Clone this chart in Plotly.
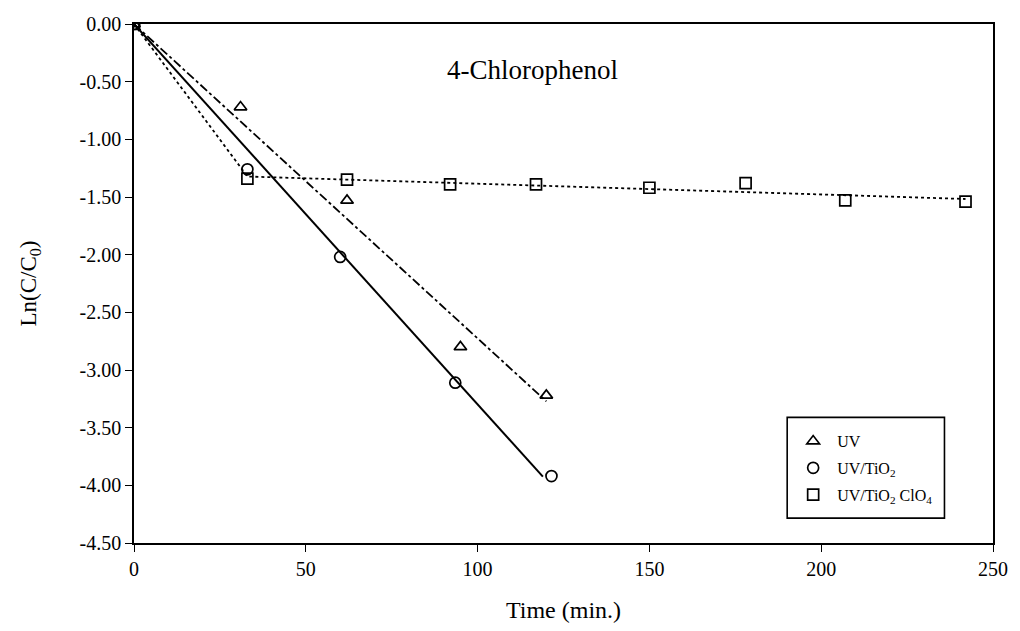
import numpy as np
import plotly.graph_objects as go

# Data
uv_t = [0, 31, 62, 95, 120]
uv_y = [0.00, -0.72, -1.53, -2.80, -3.22]

tio2_t = [0, 33, 60, 93.5, 121.5]
tio2_y = [0.00, -1.26, -2.02, -3.11, -3.92]

clo4_t = [0, 33, 62, 92, 117, 150, 178, 207, 242]
clo4_y = [0.00, -1.34, -1.35, -1.39, -1.39, -1.42, -1.38, -1.53, -1.54]

# extent of the drawn trend lines (minutes)
uv_fit_end = 120
tio2_fit_end = 119

series_names = ["UV", "UV/TiO<sub>2</sub>", "UV/TiO<sub>2</sub> ClO<sub>4</sub>"]

x_ticks = [0, 50, 100, 150, 200, 250]
y_ticks = [0, -0.5, -1, -1.5, -2, -2.5, -3, -3.5, -4, -4.5]
y_ticktext = ["0.00", "-0.50", "-1.00", "-1.50", "-2.00", "-2.50", "-3.00", "-3.50", "-4.00", "-4.50"]

FONT = "Liberation Serif"

def fit_origin(t, y):
    t = np.array(t, float); y = np.array(y, float)
    return float((t * y).sum() / (t * t).sum())

fig = go.Figure()

# UV: dash-dot fit through origin
k_uv = fit_origin(uv_t, uv_y)
fig.add_trace(go.Scatter(x=[0, uv_fit_end], y=[0, k_uv * uv_fit_end], mode="lines",
                         line=dict(color="black", width=1.8, dash="dashdot"),
                         showlegend=False, hoverinfo="skip"))
# UV/TiO2: solid fit through origin
k_ti = fit_origin(tio2_t, tio2_y)
fig.add_trace(go.Scatter(x=[0, tio2_fit_end], y=[0, k_ti * tio2_fit_end], mode="lines",
                         line=dict(color="black", width=2.0),
                         showlegend=False, hoverinfo="skip"))
# ClO4: dotted — initial drop then plateau fit
pt = np.array(clo4_t[1:], float); py = np.array(clo4_y[1:], float)
a, b = np.polyfit(pt, py, 1)
lx = [0, clo4_t[1], clo4_t[-1]]
ly = [0, a * clo4_t[1] + b, a * clo4_t[-1] + b]
fig.add_trace(go.Scatter(x=lx, y=ly, mode="lines",
                         line=dict(color="black", width=1.8, dash="dot"),
                         showlegend=False, hoverinfo="skip"))

mk = dict(color="black", size=11, line=dict(color="black", width=1.7))
symbols = ["triangle-up-open", "circle-open", "square-open"]
for i, (t, y) in enumerate([(uv_t, uv_y), (tio2_t, tio2_y), (clo4_t, clo4_y)]):
    fig.add_trace(go.Scatter(x=t, y=y, mode="markers", name=series_names[i],
                             legendgroup=f"g{i}",
                             marker=dict(symbol=symbols[i], **mk)))

fig.add_annotation(text="4-Chlorophenol", x=116, y=-0.40, xref="x", yref="y",
                   showarrow=False, font=dict(family=FONT, size=27, color="black"))

# legend frame
fig.add_shape(type="rect", xref="paper", yref="paper", x0=0.7604, x1=0.9435, y0=0.048, y1=0.242,
              line=dict(color="black", width=1.6), fillcolor="rgba(0,0,0,0)")

axis_common = dict(showgrid=False, zeroline=False, showline=True, linecolor="black",
                   linewidth=1.6, mirror=True, ticks="outside", ticklen=7, tickwidth=1.2,
                   tickcolor="black", tickfont=dict(family=FONT, size=20, color="black"))

fig.update_xaxes(range=[0, 250], tickvals=x_ticks,
                 title=dict(text="Time (min.)", font=dict(family=FONT, size=24, color="black"), standoff=22),
                 **axis_common)
fig.update_yaxes(range=[-4.5, 0], tickvals=y_ticks, ticktext=y_ticktext,
                 title=dict(text="Ln(C/C<sub>0</sub>)", font=dict(family=FONT, size=23, color="black"), standoff=36),
                 **axis_common)

fig.update_layout(
    width=1020, height=631,
    margin=dict(l=134, r=18, t=24, b=87),
    paper_bgcolor="white", plot_bgcolor="white",
    showlegend=True,
    legend=dict(x=0.7627, y=0.229, xanchor="left", yanchor="top",
                bgcolor="rgba(0,0,0,0)", borderwidth=0,
                font=dict(family=FONT, size=16, color="black"),
                itemwidth=38, tracegroupgap=3, traceorder="grouped",
                entrywidth=150),
)

fig.write_html("out.html", config={"displayModeBar": False},
               post_script="document.body.style.margin='0';")
